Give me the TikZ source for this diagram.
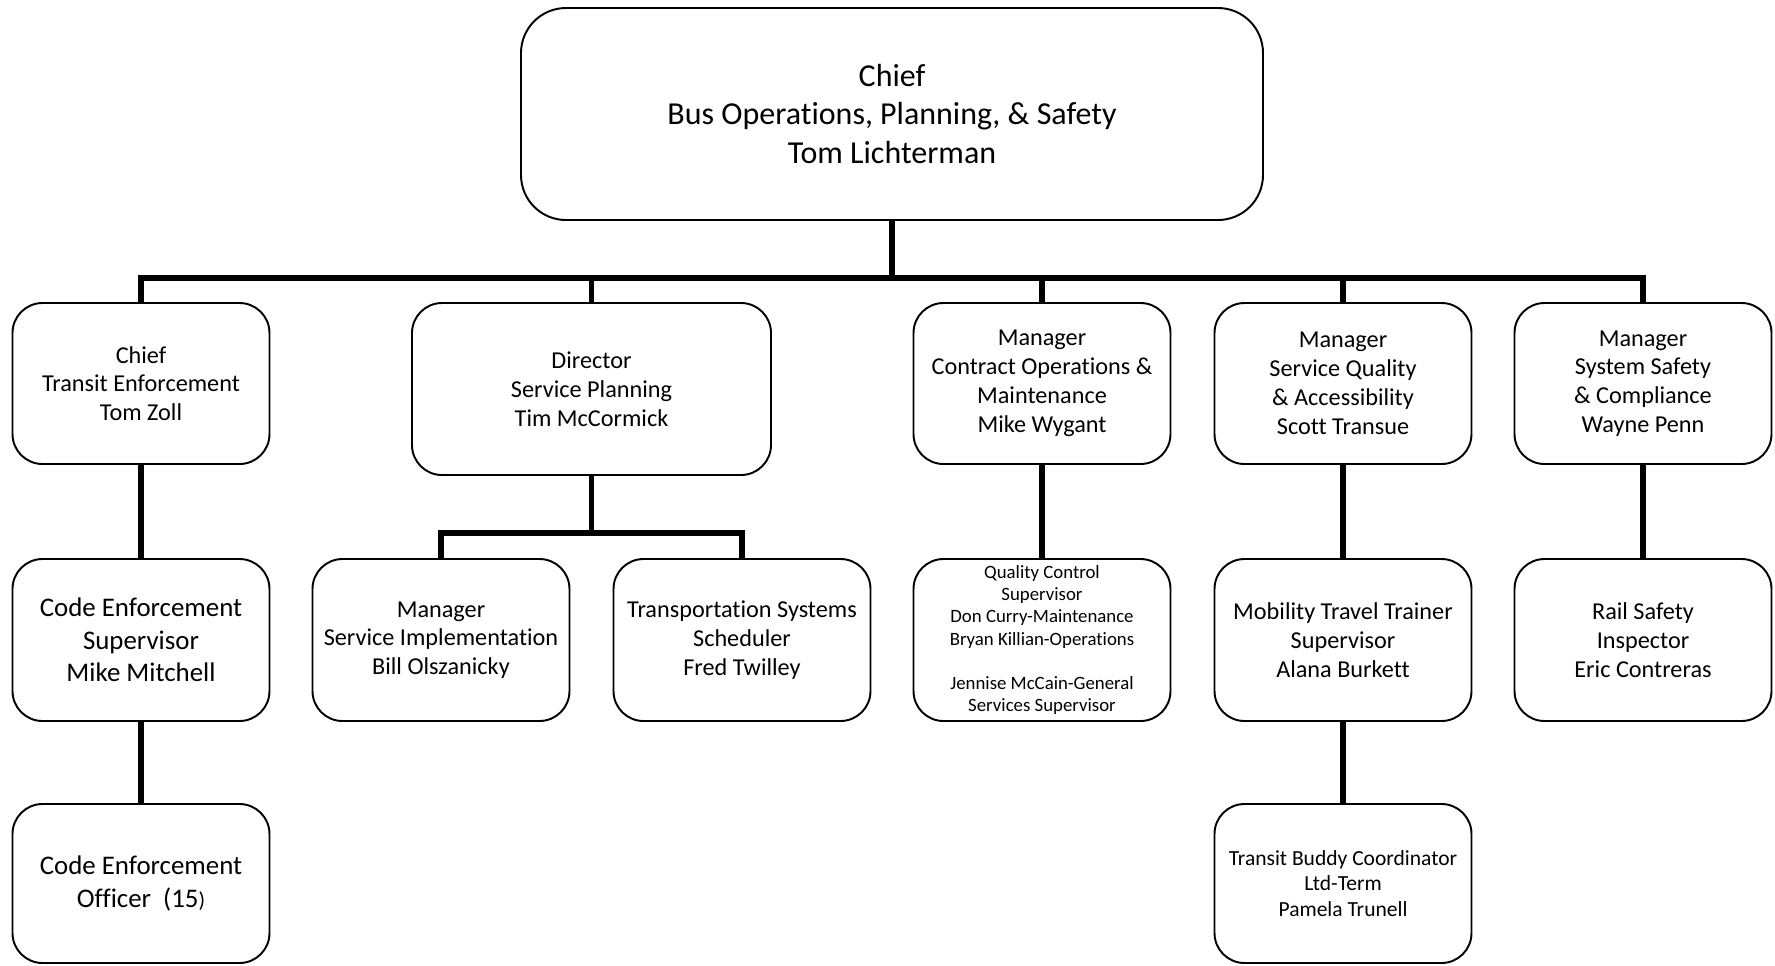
\documentclass[tikz,border=0pt]{standalone}
\usepackage{fontspec}
\setmainfont[Ligatures=NoCommon]{Carlito}
\begin{document}
\begin{tikzpicture}[
    box/.style={draw,rounded corners=0.6cm,line width=1.1pt,align=center,
      minimum width=5.14cm,minimum height=3.22cm,inner sep=2pt},
    link/.style={line width=3.3pt},
    huge/.style={font=\fontsize{18.2}{21.8}\selectfont},
    big/.style={font=\fontsize{15.3}{18.4}\selectfont},
    mid/.style={font=\fontsize{13.8}{16.4}\selectfont},
    small/.style={font=\fontsize{12.25}{14.5}\selectfont},
    tiny/.style={font=\fontsize{10.7}{12.7}\selectfont}
  ]
  \useasboundingbox (0,0) rectangle (35.5,-19.3);
  % top
  \node[box,huge,minimum width=14.84cm,minimum height=4.24cm,rounded corners=0.9cm]
    (top) at (17.84,-2.28) {Chief\\Bus Operations, Planning, \& Safety\\Tom Lichterman};
  % first row
  \node[box,mid] (chief) at (2.82,-7.67) {Chief\\Transit Enforcement\\Tom Zoll};
  \node[box,mid,minimum width=7.18cm,minimum height=3.44cm]
    (director) at (11.83,-7.78) {Director\\Service Planning\\Tim McCormick};
  \node[box,mid] (contract) at (20.84,-7.67) {Manager\\Contract Operations \&\\Maintenance\\Mike Wygant};
  \node[box,mid] (quality) at (26.86,-7.67) {Manager\\Service Quality\\\& Accessibility\\Scott Transue};
  \node[box,mid] (safety) at (32.86,-7.67) {Manager\\System Safety\\\& Compliance\\Wayne Penn};
  % second row
  \node[box,big,minimum height=3.24cm] (ceSup) at (2.82,-12.8) {Code Enforcement\\Supervisor\\Mike Mitchell};
  \node[box,mid,minimum height=3.24cm] (svcImpl) at (8.82,-12.8) {Manager\\Service Implementation\\Bill Olszanicky};
  \node[box,mid,minimum height=3.24cm] (scheduler) at (14.84,-12.8) {Transportation Systems\\Scheduler\\Fred Twilley};
  \node[box,tiny,minimum height=3.24cm] (qcSup) at (20.84,-12.8)
    {Quality Control\\Supervisor\\Don Curry-Maintenance\\Bryan Killian-Operations\\\mbox{}\\Jennise McCain-General\\Services Supervisor};
  \node[box,mid,minimum height=3.24cm] (travel) at (26.86,-12.8) {Mobility Travel Trainer\\Supervisor\\Alana Burkett};
  \node[box,mid,minimum height=3.24cm] (railSafety) at (32.86,-12.8) {Rail Safety\\Inspector\\Eric Contreras};
  % third row
  \node[box,big,minimum height=3.18cm] (ceOfficer) at (2.82,-17.67) {Code Enforcement\\Officer~~(15{\fontsize{12.3}{14}\selectfont)}};
  \node[box,small,minimum height=3.18cm] (buddy) at (26.86,-17.67) {Transit Buddy Coordinator\\Ltd-Term\\Pamela Trunell};
  % connectors
  \coordinate (bus) at (0,-5.56);
  \coordinate (sub) at (0,-10.66);
  \draw[link] (top.south) -- (top.south |- bus);
  \foreach \n in {chief,director,contract,quality,safety} {
    \draw[link] (top.south |- bus) -| (\n.north);
  }
  \draw[link] (director.south) -- (director.south |- sub);
  \foreach \n in {svcImpl,scheduler} {
    \draw[link] (director.south |- sub) -| (\n.north);
  }
  \draw[link] (chief.south) -- (ceSup.north);
  \draw[link] (ceSup.south) -- (ceOfficer.north);
  \draw[link] (contract.south) -- (qcSup.north);
  \draw[link] (quality.south) -- (travel.north);
  \draw[link] (travel.south) -- (buddy.north);
  \draw[link] (safety.south) -- (railSafety.north);
\end{tikzpicture}
\end{document}
